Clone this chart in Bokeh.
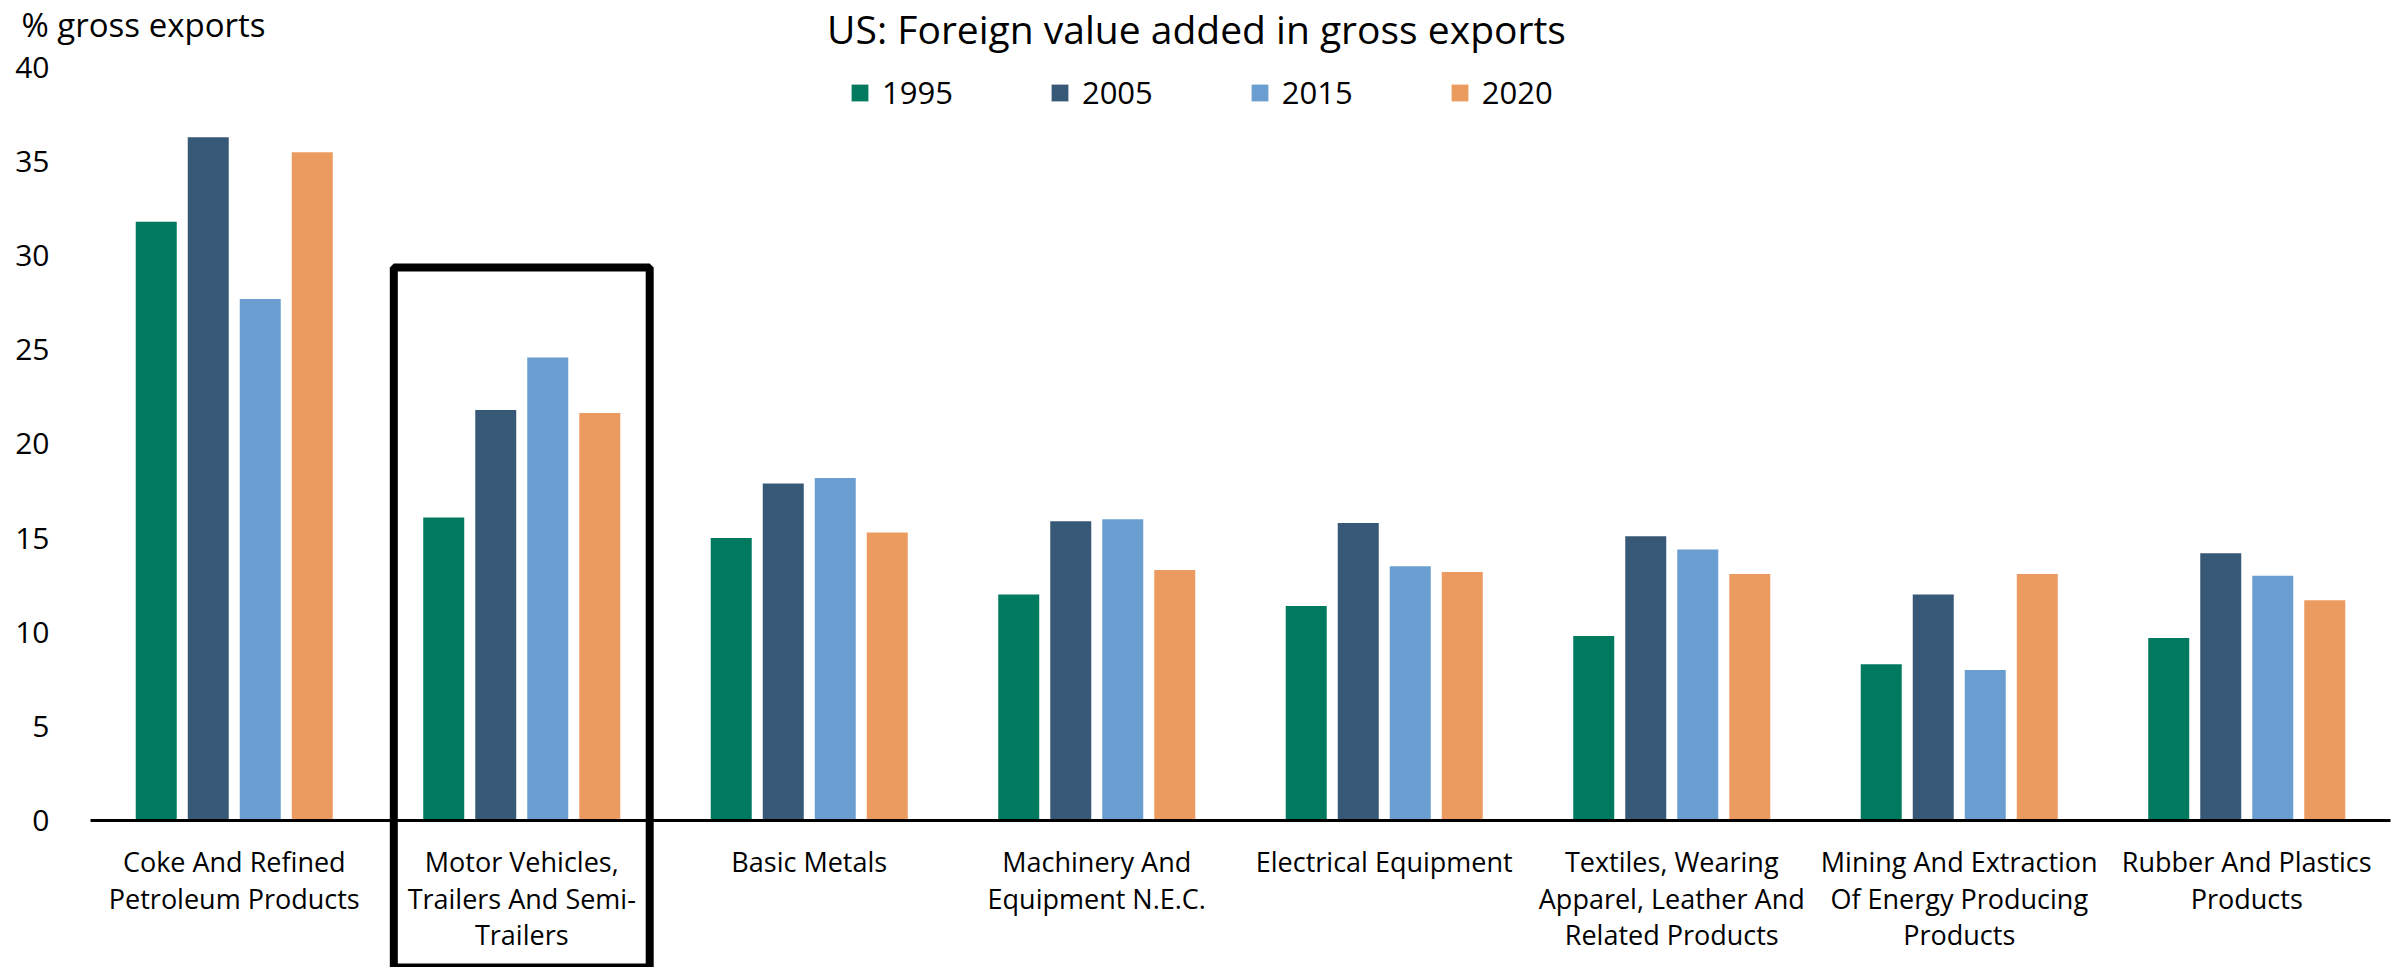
import numpy as np
from bokeh.plotting import figure
from bokeh.models import ColumnDataSource, Range1d, FixedTicker, Label, Legend, LegendItem
from bokeh.core.properties import value
from bokeh.embed import file_html
from bokeh.resources import INLINE

# ---- data ----
categories = [
    "Coke And Refined Petroleum Products",
    "Motor Vehicles, Trailers And Semi-Trailers",
    "Basic Metals",
    "Machinery And Equipment N.E.C.",
    "Electrical Equipment",
    "Textiles, Wearing Apparel, Leather And Related Products",
    "Mining And Extraction Of Energy Producing Products",
    "Rubber And Plastics Products",
]
category_labels = [
    "Coke And Refined\nPetroleum Products",
    "Motor Vehicles,\nTrailers And Semi-\nTrailers",
    "Basic Metals",
    "Machinery And\nEquipment N.E.C.",
    "Electrical Equipment",
    "Textiles, Wearing\nApparel, Leather And\nRelated Products",
    "Mining And Extraction\nOf Energy Producing\nProducts",
    "Rubber And Plastics\nProducts",
]
years = ["1995", "2005", "2015", "2020"]
v1995 = [31.8, 16.1, 15.0, 12.0, 11.4, 9.8, 8.3, 9.7]
v2005 = [36.3, 21.8, 17.9, 15.9, 15.8, 15.1, 12.0, 14.2]
v2015 = [27.7, 24.6, 18.2, 16.0, 13.5, 14.4, 8.0, 13.0]
v2020 = [35.5, 21.65, 15.3, 13.3, 13.2, 13.1, 13.1, 11.7]
y_ticks = [0, 5, 10, 15, 20, 25, 30, 35, 40]
highlight_category = "Motor Vehicles, Trailers And Semi-Trailers"

title_text = "US: Foreign value added in gross exports"
y_unit_text = "% gross exports"

colors = ["#007A5E", "#375876", "#6A9ED0", "#EC9B60"]
FONT = "Open Sans"

# category slot i is centred at i + 0.5 (one unit per category)
centers = np.arange(len(categories)) + 0.5
src = ColumnDataSource(dict(cat=categories, label=category_labels, xc=centers,
                            y1995=v1995, y2005=v2005, y2015=v2015, y2020=v2020))

W, H = 2397, 967
LEFT_PX, SLOT_PX = 90, 287.5
p = figure(width=W, height=H,
           x_range=Range1d(-LEFT_PX / SLOT_PX, (W - LEFT_PX) / SLOT_PX),
           y_range=Range1d(-7.81, 43.56), output_backend="svg", toolbar_location=None,
           x_axis_location=None, y_axis_location="left",
           min_border_left=0, min_border_right=0, min_border_top=0, min_border_bottom=0)
p.outline_line_color = None
p.xgrid.visible = False
p.ygrid.visible = False
p.background_fill_color = "white"
p.border_fill_color = "white"

ya = p.yaxis[0]
ya.fixed_location = 0
ya.ticker = FixedTicker(ticks=y_ticks)
ya.axis_line_color = None
ya.major_tick_line_color = None
ya.minor_tick_line_color = None
ya.major_label_standoff = 35
ya.major_label_text_font = FONT
ya.major_label_text_font_size = "30px"
ya.major_label_text_color = "black"

step = 0.1809
bw = 0.1426
offsets = [-1.5 * step, -0.5 * step, 0.5 * step, 1.5 * step]
items = []
for yr, off, c in zip(years, offsets, colors):
    src.data["x" + yr] = centers + off
    r = p.vbar(x="x" + yr, top="y" + yr, width=bw, bottom=0,
               source=src, fill_color=c, line_color=None)
    items.append(LegendItem(label=yr, renderers=[r]))

# baseline (x axis line) across all category slots
p.segment(x0=[0], x1=[len(categories)], y0=[0], y1=[0], line_color="black", line_width=3)

# highlight box around one category
hi = categories.index(highlight_category) + 0.5
p.rect(x=[hi], y=[10.785], width=0.89, height=37.19,
       fill_color=None, line_color="black", line_width=8)

# category labels
p.text(x="xc", y=-1.19, text="label", source=src, text_align="center", text_baseline="top",
       text_font=value(FONT), text_font_size="27px", text_line_height=0.99, text_color="black")

# title and unit label
p.add_layout(Label(x=1196, y=939, x_units="screen", y_units="screen", text=title_text,
                   text_align="center", text_baseline="middle",
                   text_font=FONT, text_font_size="39px", text_color="black"))
p.add_layout(Label(x=21, y=943, x_units="screen", y_units="screen", text=y_unit_text,
                   text_align="left", text_baseline="middle",
                   text_font=FONT, text_font_size="33px", text_color="black"))

legend = Legend(items=items, orientation="horizontal", location=(849, 854),
                glyph_width=21, glyph_height=21, label_standoff=12, spacing=96,
                label_text_font=FONT, label_text_font_size="31px", label_text_color="black",
                padding=0, margin=0, border_line_color=None, background_fill_alpha=0,
                label_height=21)
p.add_layout(legend, "center")

open("out.html", "w").write(file_html(p, INLINE))
